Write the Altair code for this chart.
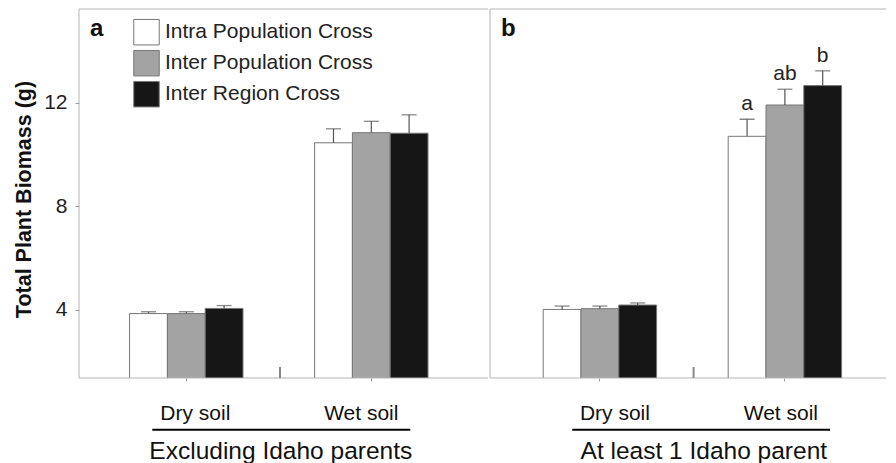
import altair as alt
import pandas as pd

FONT = "Liberation Sans"

crosses = ["Intra Population Cross", "Inter Population Cross", "Inter Region Cross"]
soils = ["Dry soil", "Wet soil"]
panel_titles = ["Excluding Idaho parents", "At least 1 Idaho parent"]
panel_letters = ["a", "b"]

# Panel a: excluding Idaho parents
a_dry = [3.86, 3.86, 4.06]
a_dry_se = [0.07, 0.07, 0.11]
a_wet = [10.46, 10.85, 10.83]
a_wet_se = [0.54, 0.44, 0.71]

# Panel b: at least 1 Idaho parent
b_dry = [4.02, 4.05, 4.19]
b_dry_se = [0.13, 0.10, 0.08]
b_wet = [10.71, 11.92, 12.67]
b_wet_se = [0.66, 0.61, 0.57]
b_wet_letters = ["a", "ab", "b"]

colors = ["#ffffff", "#a3a3a3", "#161616"]
y_ticks = [4, 8, 12]
y_domain = [1.37, 15.63]
FRAME = "#b4b4b4"
H = 369


def make_df(dry, dry_se, wet, wet_se, letters=None):
    rows = []
    for soil, vals, ses in [("Dry soil", dry, dry_se), ("Wet soil", wet, wet_se)]:
        for i, c in enumerate(crosses):
            lab = ""
            if soil == "Wet soil" and letters is not None:
                lab = letters[i]
            rows.append({"soil": soil, "cross": c, "mean": vals[i],
                         "upper": vals[i] + ses[i], "letter": lab})
    return pd.DataFrame(rows)


def make_panel(df, title, letter, show_y, width, pad_outer, align, title_x,
               ul_x1, ul_x2, lab_off_dry, lab_off_wet, show_legend):
    xscale = alt.Scale(domain=soils, paddingInner=0.387, paddingOuter=pad_outer, align=align)
    xaxis = alt.Axis(
        title=title, titleFont=FONT, titleFontSize=24.5, titleFontWeight="normal",
        titleColor="#111", titlePadding=16, titleX=title_x,
        labelFont=FONT, labelFontSize=21, labelColor="#111", labelPadding=21,
        labelAngle=0, tickSize=3, tickColor="#999", domain=False,
        labelOffset={"condition": {"test": "datum.value == 'Dry soil'", "value": lab_off_dry},
                     "value": lab_off_wet},
    )
    x = alt.X("soil:N", scale=xscale, axis=xaxis)
    xo = alt.XOffset("cross:N", scale=alt.Scale(domain=crosses, paddingInner=0, paddingOuter=0))
    yscale = alt.Scale(domain=y_domain, nice=False, zero=False)
    if show_y:
        yaxis = alt.Axis(values=y_ticks, title="Total Plant Biomass (g)", titleFont=FONT,
                         titleFontSize=21.5, titleFontWeight="bold", titleColor="#111",
                         titlePadding=8, titleY=190, labelFont=FONT, labelFontSize=21,
                         labelColor="#222", labelPadding=8, tickSize=4, tickColor="#999",
                         domain=False, grid=False)
    else:
        yaxis = None
    if show_legend:
        legend = alt.Legend(orient="none", legendX=54, legendY=9.7, title=None,
                            symbolType="square", symbolSize=650, symbolStrokeColor="#777",
                            symbolStrokeWidth=1, symbolOpacity=1, labelFont=FONT,
                            labelFontSize=21, labelColor="#222", rowPadding=0,
                            labelOffset=5, padding=0, labelLimit=400)
    else:
        legend = None

    base = alt.Chart(df)
    bars = base.mark_bar(stroke="#777", strokeWidth=1, clip=True).encode(
        x=x, xOffset=xo,
        y=alt.Y("mean:Q", scale=yscale, axis=yaxis),
        fill=alt.Fill("cross:N", scale=alt.Scale(domain=crosses, range=colors), legend=legend),
    )
    err = base.mark_rule(color="#555", strokeWidth=1.2).encode(
        x=alt.X("soil:N"), xOffset=alt.XOffset("cross:N"),
        y=alt.Y("mean:Q"), y2="upper:Q",
    )
    caps = base.mark_tick(color="#555", size=15, thickness=1.3).encode(
        x=alt.X("soil:N"), xOffset=alt.XOffset("cross:N"), y=alt.Y("upper:Q"),
    )
    mid = alt.Chart(pd.DataFrame({"soil": ["Dry soil"]})).mark_rule(
        color="#888", strokeWidth=2, xOffset=37).encode(
        x=alt.X("soil:N", bandPosition=1),
        y=alt.value(H), y2=alt.value(H - 11),
    )
    one = pd.DataFrame({"k": [0]})
    frame_top = alt.Chart(one).mark_rule(color=FRAME, strokeWidth=1).encode(
        x=alt.value(0), x2=alt.value(width), y=alt.value(0))
    frame_left = alt.Chart(one).mark_rule(color=FRAME, strokeWidth=1).encode(
        x=alt.value(0), y=alt.value(0), y2=alt.value(H))
    frame_bottom = alt.Chart(one).mark_rule(color=FRAME, strokeWidth=1).encode(
        x=alt.value(0), x2=alt.value(width), y=alt.value(H))
    underline = alt.Chart(one).mark_rule(color="#000", strokeWidth=2).encode(
        x=alt.value(ul_x1), x2=alt.value(ul_x2), y=alt.value(420.7),
    )
    plabel = alt.Chart(one).mark_text(
        font=FONT, fontSize=24, fontWeight="bold", color="#111", align="left",
        baseline="alphabetic").encode(
        x=alt.value(11), y=alt.value(26.7), text=alt.value(letter),
    )
    layers = [bars, err, caps, frame_top, frame_left, frame_bottom, mid, underline, plabel]
    if (df["letter"] != "").any():
        sig = base.transform_filter("datum.letter != ''").mark_text(
            font=FONT, fontSize=21, color="#222", baseline="alphabetic", dy=-9).encode(
            x=alt.X("soil:N"), xOffset=alt.XOffset("cross:N"), y=alt.Y("upper:Q"),
            text="letter:N",
        )
        layers.append(sig)
    return alt.layer(*layers).properties(width=width, height=H)


df_a = make_df(a_dry, a_dry_se, a_wet, a_wet_se)
df_b = make_df(b_dry, b_dry_se, b_wet, b_wet_se, b_wet_letters)

pa = make_panel(df_a, panel_titles[0], panel_letters[0], True, 409, 0.2989, 0.4575,
                201.3, 73.3, 331.3, 9, -10, True)
pb = make_panel(df_b, panel_titles[1], panel_letters[1], False, 396, 0.2638, 0.545,
                213.3, 82.3, 340, 15, -4, False)

chart = alt.hconcat(pa, pb, spacing=0).resolve_scale(
    x="independent", fill="independent"
).configure_view(stroke=None).properties(
    padding={"left": 5, "top": 0, "right": 0, "bottom": 0}
)

chart.save("out.html", embed_options={"renderer": "svg", "actions": False})
